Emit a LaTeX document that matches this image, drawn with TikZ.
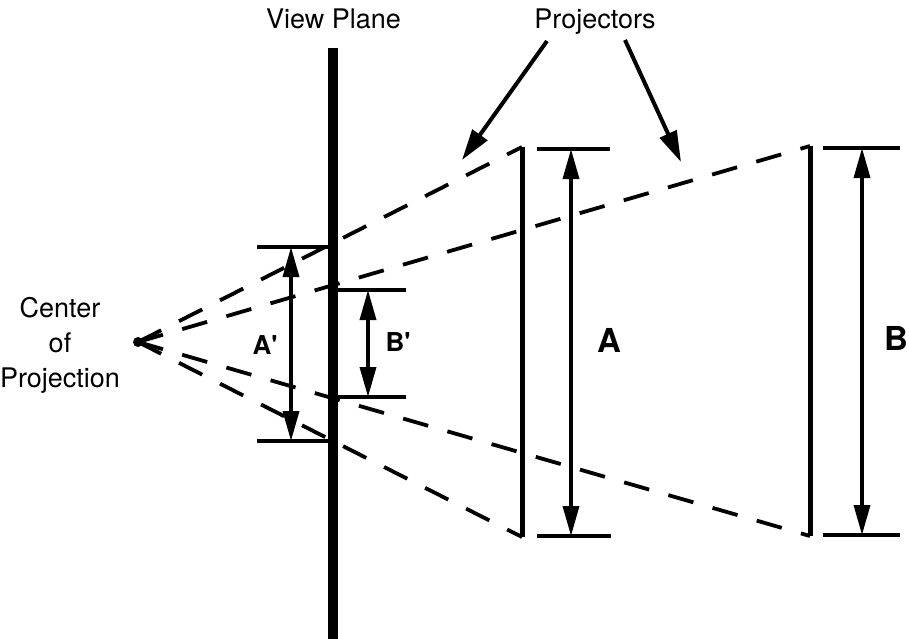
\documentclass[tikz,border=0pt]{standalone}
\usepackage{fontspec}
\setmainfont{TeX Gyre Heros}
\usetikzlibrary{arrows.meta}
\tikzset{
  x=1pt,y=-1pt,
  proj/.style={line width=3.8pt,dash pattern=on 26pt off 20pt},
  plane/.style={line width=10pt},
  objline/.style={line width=5pt},
  tickline/.style={line width=4pt},
  dimarrow/.style={line width=3.5pt,{Triangle[length=30pt,width=16pt]}-{Triangle[length=30pt,width=16pt]}},
  callout/.style={line width=4pt,-{Triangle[length=31pt,width=18pt]}},
  lbl/.style={font=\fontsize{27}{30}\selectfont,inner sep=0pt,anchor=base},
  dimlbl/.style={font=\fontsize{26}{30}\selectfont\bfseries,inner sep=0pt},
  biglbl/.style={font=\fontsize{33}{36}\selectfont\bfseries,inner sep=0pt}
}
\begin{document}
\begin{tikzpicture}
\useasboundingbox (0,0) rectangle (909,638);
% coordinates
\coordinate (cop) at (138,342);
\coordinate (At) at (522,147);
\coordinate (Ab) at (522,537);
\coordinate (Bt) at (810,146);
\coordinate (Bb) at (810,536);
% projectors
\draw[proj] (cop) -- (At);
\draw[proj] (cop) -- (Bt);
\draw[proj] (cop) -- (Bb);
\draw[proj] (cop) -- (Ab);
\fill (cop) circle (5pt);
% view plane
\coordinate (vpt) at (333,48);
\coordinate (vpb) at (333,640);
\draw[plane] (vpt) -- (vpb);
% A' object
\coordinate (apt1) at (257,247); \coordinate (apt2) at (333,247);
\coordinate (apb1) at (257,441); \coordinate (apb2) at (333,441);
\draw[tickline] (apt1) -- (apt2);
\draw[tickline] (apb1) -- (apb2);
\coordinate (apa1) at (291,247); \coordinate (apa2) at (291,441);
\draw[dimarrow] (apa1) -- (apa2);
% B' object
\coordinate (bpt1) at (333,290); \coordinate (bpt2) at (406,290);
\coordinate (bpb1) at (333,397); \coordinate (bpb2) at (406,397);
\draw[tickline] (bpt1) -- (bpt2);
\draw[tickline] (bpb1) -- (bpb2);
\coordinate (bpa1) at (368,290); \coordinate (bpa2) at (368,397);
\draw[dimarrow] (bpa1) -- (bpa2);
% A object
\draw[objline] (At) -- (Ab);
\coordinate (at1) at (537,149); \coordinate (at2) at (610,149);
\coordinate (ab1) at (537,536); \coordinate (ab2) at (611,536);
\draw[tickline] (at1) -- (at2);
\draw[tickline] (ab1) -- (ab2);
\coordinate (aa1) at (571,149); \coordinate (aa2) at (571,536);
\draw[dimarrow] (aa1) -- (aa2);
% B object
\draw[objline] (Bt) -- (Bb);
\coordinate (bt1) at (823,148); \coordinate (bt2) at (900,148);
\coordinate (bb1) at (823,535); \coordinate (bb2) at (900,535);
\draw[tickline] (bt1) -- (bt2);
\draw[tickline] (bb1) -- (bb2);
\coordinate (ba1) at (862,148); \coordinate (ba2) at (862,535);
\draw[dimarrow] (ba1) -- (ba2);
% labels
\node[lbl] (vp) at (333.5,28) {View Plane};
\node[lbl] (pr) at (595,28) {Projectors};
\node[lbl] (c1) at (60,317) {Center};
\node[lbl] (c2) at (60,352) {of};
\node[lbl] (c3) at (60,387) {Projection};
\node[dimlbl] (lAp) at (265,345) {A\textquotesingle};
\node[dimlbl] (lBp) at (398,342) {B\textquotesingle};
\node[biglbl] (lA) at (609,340) {A};
\node[biglbl] (lB) at (896,338) {B};
% callout arrows
\coordinate (p1s) at (547,41); \coordinate (p1e) at (462,160);
\coordinate (p2s) at (625,40); \coordinate (p2e) at (681,162);
\draw[callout] (p1s) -- (p1e);
\draw[callout] (p2s) -- (p2e);
\end{tikzpicture}
\end{document}
